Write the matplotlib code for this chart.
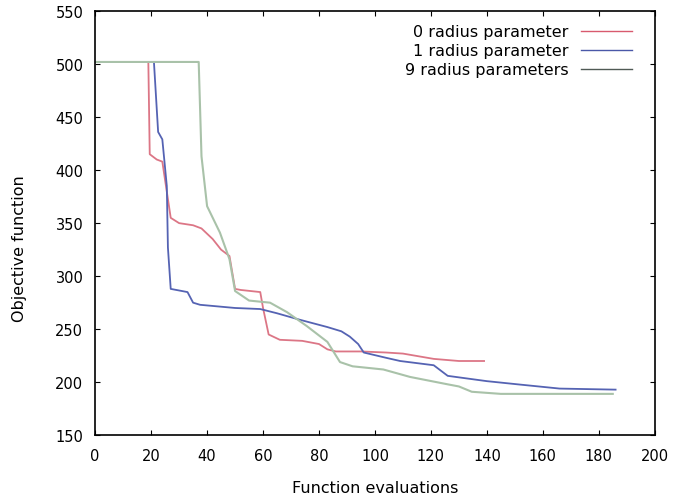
import matplotlib
matplotlib.use("Agg")
import matplotlib.pyplot as plt

# curves
x_r0 = [0, 19, 19.5, 22, 24, 27, 30, 35, 38, 42, 45, 48, 50, 52, 59, 60, 62, 66, 74, 80, 83, 86, 95, 104, 110, 121, 130, 139]
y_r0 = [502, 502, 415, 410, 408, 355, 350, 348, 345, 335, 325, 319, 288, 287, 285, 270, 245, 240, 239, 236, 231, 229, 229, 228, 227, 222, 220, 220]

x_r1 = [0, 21, 22.5, 24, 25.6, 26, 27, 33, 35, 37.5, 50, 59, 65, 73, 83, 88, 91, 94, 96, 104, 109, 121, 126, 140, 151, 166, 186]
y_r1 = [502, 502, 436, 429, 385, 327, 288, 285, 275, 273, 270, 269, 265, 259, 252, 248, 243, 236, 228, 223, 220, 216, 206, 201, 198, 194, 193]

x_r9 = [0, 37, 38, 40, 44.6, 48, 50, 55, 62.5, 68.6, 75.6, 83, 87.5, 92, 103, 112.5, 126, 130, 134.6, 145, 185]
y_r9 = [502, 502, 413, 366, 341, 316, 286, 277, 275, 266, 253, 238, 219, 215, 212, 205, 198, 196, 191, 189, 189]

labels = ["0 radius parameter", "1 radius parameter", "9 radius parameters"]

fig = plt.figure(figsize=(6.75, 5.02), dpi=100)
ax = fig.add_axes([0.141, 0.131, 0.829, 0.845])

ax.plot(x_r0, y_r0, color="#dc7686", lw=1.3)
ax.plot(x_r1, y_r1, color="#5563b3", lw=1.3)
ax.plot(x_r9, y_r9, color="#a9c2a9", lw=1.5)

# legend samples are thinner/darker in the reference
h0, = ax.plot([], [], color="#d85a6e", lw=1.0)
h1, = ax.plot([], [], color="#4a58a8", lw=1.0)
h2, = ax.plot([], [], color="#505a55", lw=1.0)
ax.legend([h0, h1, h2], labels, loc="upper right", bbox_to_anchor=(0.98, 0.995),
          frameon=False, markerfirst=False, fontsize=11.5, handlelength=3.2,
          borderaxespad=0.3, labelspacing=0.25, handletextpad=0.8)

ax.set_xlim(0, 200)
ax.set_ylim(150, 550)
ax.set_xticks(range(0, 201, 20))
ax.set_yticks(range(150, 551, 50))
ax.tick_params(direction="in", top=True, right=True, labelsize=10.5, length=3.5)
ax.tick_params(axis="y", pad=8.5)
ax.tick_params(axis="x", pad=9.5)
for s in ax.spines.values():
    s.set_linewidth(1.2)

ax.set_xlabel("Function evaluations", fontsize=11.5)
ax.set_ylabel("Objective function", fontsize=11.5)
ax.xaxis.set_label_coords(0.5, -0.105)
ax.yaxis.set_label_coords(-0.121, 0.443)

fig.savefig("out.png", dpi=100)
